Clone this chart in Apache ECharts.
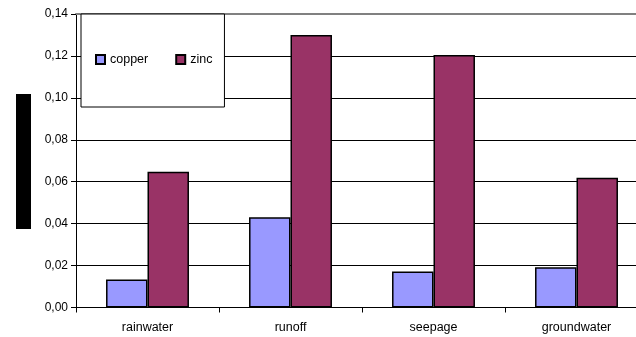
<!DOCTYPE html>
<html>
<head>
<meta charset="utf-8">
<script src="https://cdn.jsdelivr.net/npm/echarts@6/dist/echarts.min.js"></script>
<style>
  html, body { margin: 0; padding: 0; background: #fff; overflow: hidden; }
  #wrap { width: 636px; height: 337px; overflow: hidden; }
  /* the plot area runs a little past the right edge of the visible frame */
  #chart { width: 648px; height: 337px; }
</style>
</head>
<body>
<div id="wrap"><div id="chart"></div></div>
<script>
// Metal concentrations by water type
const categories = ['rainwater', 'runoff', 'seepage', 'groundwater'];
const copper = [0.0134, 0.043, 0.0172, 0.0192];
const zinc = [0.0648, 0.130, 0.1205, 0.0619];
const yTicks = [0, 0.02, 0.04, 0.06, 0.08, 0.10, 0.12, 0.14];

const chart = echarts.init(document.getElementById('chart'), null, { renderer: 'canvas' });
const font = 'Liberation Sans, Arial, sans-serif';

chart.setOption({
  animation: false,
  backgroundColor: '#fff',
  grid: { left: 76, top: 14, right: 0, bottom: 29.5, containLabel: false },
  legend: {
    left: 81, top: 14,
    orient: 'horizontal',
    icon: 'rect',
    itemWidth: 9, itemHeight: 9,
    itemGap: 27,
    padding: [39, 12, 41, 14],
    backgroundColor: '#fff',
    borderColor: '#000', borderWidth: 1,
    textStyle: { fontFamily: font, fontSize: 12.5, color: '#000' },
    data: ['copper', 'zinc']
  },
  graphic: [{
    type: 'rect', left: 16, top: 94, z: 10,
    shape: { width: 15, height: 135 },
    style: { fill: '#000' }
  }],
  xAxis: [{
    type: 'category', data: categories,
    axisLine: { lineStyle: { color: '#000', width: 1 } },
    axisTick: { show: true, length: 5, lineStyle: { color: '#000' } },
    axisLabel: { fontFamily: font, fontSize: 12.5, color: '#000', margin: 14 },
    splitLine: { show: false }
  }, {
    type: 'category', data: categories, position: 'top',
    axisLine: { show: true, lineStyle: { color: '#808080', width: 2 } },
    axisTick: { show: false }, axisLabel: { show: false }
  }],
  yAxis: {
    type: 'value', min: yTicks[0], max: yTicks[yTicks.length - 1], interval: 0.02,
    axisLine: { show: true, lineStyle: { color: '#000', width: 1 } },
    axisTick: { show: true, length: 5, lineStyle: { color: '#000' } },
    axisLabel: {
      fontFamily: font, fontSize: 12, color: '#000', margin: 8,
      formatter: v => v.toFixed(2).replace('.', ',')
    },
    splitLine: { show: true, lineStyle: { color: '#000', width: 1 } }
  },
  series: [{
    name: 'copper', type: 'bar', data: copper,
    barGap: '0%', barCategoryGap: '42%',
    itemStyle: { color: '#9999FF', borderColor: '#000', borderWidth: 1.5 }
  }, {
    name: 'zinc', type: 'bar', data: zinc,
    barGap: '0%', barCategoryGap: '42%',
    itemStyle: { color: '#993366', borderColor: '#000', borderWidth: 1.5 }
  }]
});
</script>
</body>
</html>
